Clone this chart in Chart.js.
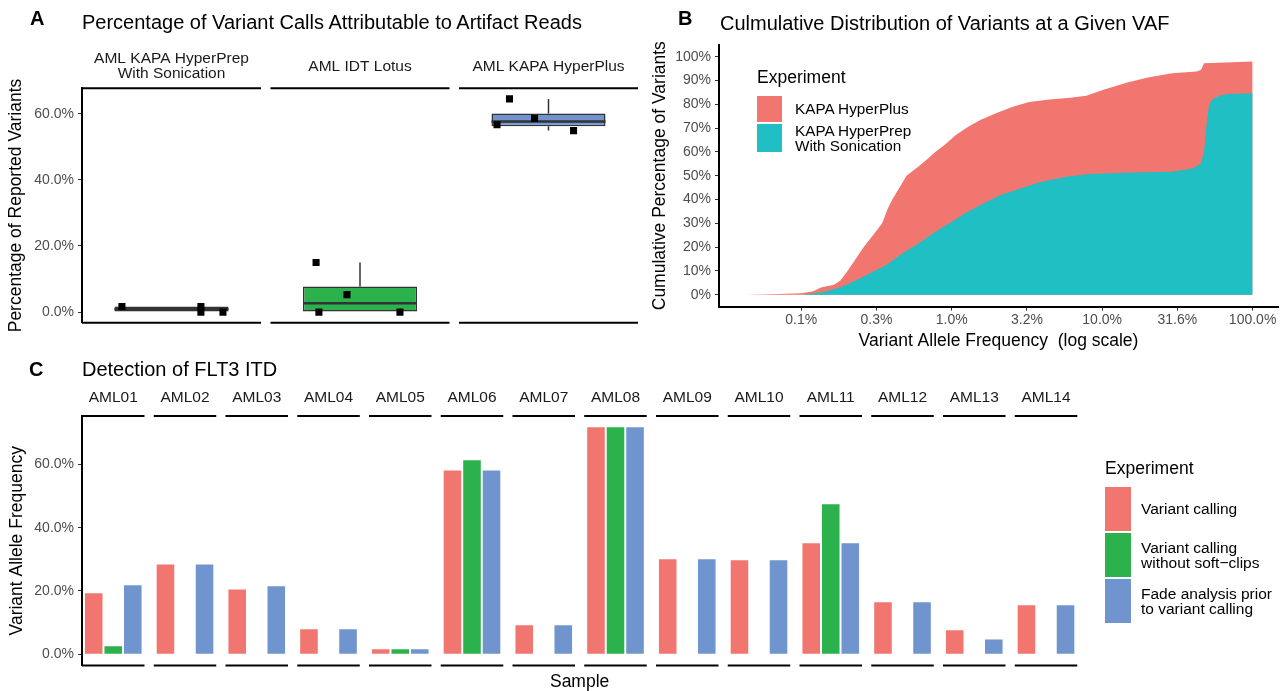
<!DOCTYPE html>
<html><head><meta charset="utf-8">
<script src="https://cdn.jsdelivr.net/npm/chart.js@4.4.1/dist/chart.umd.min.js"></script>
<style>
html,body{margin:0;padding:0;background:#fff;width:1281px;height:691px;overflow:hidden;font-family:"Liberation Sans",Arial,sans-serif;}
canvas{position:absolute;left:0;top:0;}
.t{position:absolute;white-space:nowrap;color:#000;line-height:1;}
.k{position:absolute;}
</style></head><body>
<canvas id="cA" width="1281" height="691"></canvas>
<canvas id="cB" width="1281" height="691"></canvas>
<canvas id="cC" width="1281" height="691"></canvas>

<div class="t" style="left:30px;top:7.7px;font-size:20px;font-weight:bold;">A</div>
<div class="t" style="left:82px;top:12.2px;font-size:20px;">Percentage of Variant Calls Attributable to Artifact Reads</div>
<div class="t" style="left:678px;top:7.7px;font-size:20px;font-weight:bold;">B</div>
<div class="t" style="left:720px;top:12.5px;font-size:20px;">Culmulative Distribution of Variants at a Given VAF</div>
<div class="t" style="left:29px;top:358.7px;font-size:20px;font-weight:bold;">C</div>
<div class="t" style="left:82px;top:359.2px;font-size:20px;">Detection of FLT3 ITD</div>
<div id="legB"></div>
<div id="legC"></div>

<script>
// ---------- Panel A data ----------
const libraryPreps = ['AML KAPA HyperPrep\nWith Sonication', 'AML IDT Lotus', 'AML KAPA HyperPlus'];
const artifactPct = [
  [1.7, 1.7, 0.0, 0.0],
  [15.0, 5.3, 0.0, 0.0],
  [64.5, 58.6, 56.7, 54.9]
];
const jitterA = [
  [-0.263, 0.156, 0.156, 0.273],
  [-0.233, -0.069, -0.218, 0.212],
  [-0.207, -0.074, -0.273, 0.133]
];
const yTicksA = [0, 20, 40, 60];

// ---------- Panel B data (VAF in %, cumulative %) ----------
const hyperPlusCdf = [
  [0.0425,0],[0.07,0.3],[0.1,0.6],[0.12,1.5],[0.135,3],[0.165,4.2],[0.182,6],[0.203,10],
  [0.23,15],[0.26,20],[0.3,25],[0.345,30],[0.375,36],[0.403,40],[0.45,45],[0.501,50],
  [0.605,54],[0.69,57],[0.778,60],[0.9,63],[1.06,67],[1.28,70.5],[1.55,73.4],[1.99,76.3],
  [2.55,79],[3.27,81],[4.48,82],[6.12,82.8],[7.86,83.6],[10.1,86],[14.7,89.2],[20.1,91.3],
  [29.2,93],[42.5,93.8],[45.5,94.5],[47.5,97.3],[100,98]
];
const hyperPrepCdf = [
  [0.0425,0],[0.1,0],[0.119,0.5],[0.144,1.3],[0.173,2.7],[0.196,4],[0.237,6.4],[0.286,9],
  [0.367,12.5],[0.471,17.4],[0.605,21.6],[0.778,26.5],[1.0,30.7],[1.28,34.9],[1.64,38.4],
  [2.11,41.9],[2.89,44.7],[3.95,47.5],[5.75,49.6],[8.36,50.7],[15.6,51.3],[29.2,51.7],
  [39.9,53],[45.2,55],[47.5,60],[49.5,72],[51.5,80],[54,82],[61,83.8],[70,84.3],[100,84.6]
];
const seriesB = ['KAPA HyperPlus', 'KAPA HyperPrep\nWith Sonication'];
const vafTicks = [0.1, 0.3162, 1, 3.162, 10, 31.62, 100];
const yTicksB = [0,10,20,30,40,50,60,70,80,90,100];

// ---------- Panel C data ----------
const samples = ['AML01','AML02','AML03','AML04','AML05','AML06','AML07','AML08','AML09','AML10','AML11','AML12','AML13','AML14'];
const variantCalling = [19.3,28.4,20.5,7.9,1.6,58.1,9.2,71.7,30.0,29.7,35.1,16.4,7.6,15.5];
const noSoftClips    = [2.5,0,0,0,1.6,61.3,0,71.7,0,0,47.4,0,0,0];
const fadePrior      = [21.8,28.4,21.5,7.9,1.6,58.1,9.2,71.7,30.0,29.7,35.1,16.4,4.7,15.5];
const seriesC = ['Variant calling', 'Variant calling\nwithout soft\u2212clips', 'Fade analysis prior\nto variant calling'];
const yTicksC = [0, 20, 40, 60];

// ---------- styling ----------
const RED = '#F1766F', GREEN = '#2BB24C', BLUE = '#7094CD', TEAL = '#1FBFC3';
const boxFill = ['#333333', GREEN, BLUE];
const FONT = "'Liberation Sans', Arial, sans-serif";
Chart.defaults.font.family = FONT;
Chart.defaults.color = '#4D4D4D';
Chart.defaults.animation = false;

const facetPlugin = {
  id: 'facets',
  afterDraw(chart, args, o) {
    if (!o || !o.labels) return;
    const {ctx, chartArea: ca} = chart;
    const x = chart.scales.x;
    ctx.save();
    o.labels.forEach((lab, i) => {
      const l = x.getPixelForValue(i - o.half), r = x.getPixelForValue(i + o.half);
      ctx.strokeStyle = '#000'; ctx.lineWidth = 2;
      ctx.beginPath();
      ctx.moveTo(l, ca.top); ctx.lineTo(r, ca.top);
      ctx.moveTo(l, ca.bottom); ctx.lineTo(r, ca.bottom);
      ctx.stroke();
      ctx.fillStyle = '#1A1A1A';
      ctx.font = o.fontSize + 'px ' + FONT;
      ctx.textAlign = 'center'; ctx.textBaseline = 'middle';
      const lines = lab.split('\n');
      const c = (l + r) / 2;
      lines.forEach((ln, j) => ctx.fillText(ln, c, o.stripY + (j - (lines.length - 1) / 2) * o.lineGap));
    });
    ctx.restore();
  }
};

function yAxis(opts) {
  return Object.assign({
    position: 'left',
    grid: {display: true, drawOnChartArea: false, drawTicks: true, tickLength: 4, color: '#333', tickColor: '#333', tickWidth: 1},
    border: {display: true, color: '#000', width: 2},
    ticks: {padding: 4, color: '#4D4D4D', font: {size: 14}},
  }, opts);
}

// ---------- Panel A ----------
function quantile(arr, p) {
  const s = [...arr].sort((a, b) => a - b);
  const h = (s.length - 1) * p, lo = Math.floor(h);
  const hi = Math.min(lo + 1, s.length - 1);
  return s[lo] + (h - lo) * (s[hi] - s[lo]);
}
const boxStats = artifactPct.map(v => {
  const q1 = quantile(v, 0.25), med = quantile(v, 0.5), q3 = quantile(v, 0.75);
  const iqr = q3 - q1;
  const lo = Math.min(...v.filter(d => d >= q1 - 1.5 * iqr));
  const hi = Math.max(...v.filter(d => d <= q3 + 1.5 * iqr));
  return {q1, med, q3, lo, hi};
});
const BOXW = 0.605, HALF_A = 0.4748;
const pointsA = artifactPct.flatMap((v, i) => v.map((d, j) => ({x: i + jitterA[i][j], y: d})));
const medianSegs = boxStats.flatMap((b, i) => [{x: i - BOXW / 2, y: b.med}, {x: i + BOXW / 2, y: b.med}, {x: i, y: null}]);
const whiskerSegs = boxStats.flatMap((b, i) => [{x: i, y: b.q3}, {x: i, y: b.hi}, {x: i, y: null}, {x: i, y: b.q1}, {x: i, y: b.lo}, {x: i, y: null}]);

new Chart(document.getElementById('cA'), {
  type: 'bar',
  data: {datasets: [
    {type: 'scatter', data: pointsA, pointStyle: 'rect', pointRadius: 5, backgroundColor: '#000', borderColor: '#000', borderWidth: 0, order: 0},
    {type: 'line', data: medianSegs, borderColor: '#333', borderWidth: 2.5, pointRadius: 0, spanGaps: false, order: 1},
    {type: 'bar', data: boxStats.map((b, i) => ({x: i, y: [b.q1, b.q3]})), backgroundColor: boxFill, borderColor: '#333', borderWidth: 1.5, borderSkipped: false, barPercentage: BOXW, categoryPercentage: 1, order: 3},
    {type: 'line', data: whiskerSegs, borderColor: '#333', borderWidth: 1.5, pointRadius: 0, spanGaps: false, order: 4}
  ]},
  options: {
    responsive: false, animation: false,
    layout: {padding: {left: 0, right: 643, top: 88.3, bottom: 368.3}},
    plugins: {legend: {display: false}, tooltip: {enabled: false},
      facets: {labels: libraryPreps, half: HALF_A, stripY: 66.5, lineGap: 15, fontSize: 15.5}},
    scales: {
      x: {type: 'linear', display: false, offset: false, grid: {offset: false}, min: -HALF_A, max: 2 + HALF_A,
          afterBuildTicks: s => { s.ticks = libraryPreps.map((_, i) => ({value: i})); }},
      y: yAxis({min: -3.2, max: 67.7,
          afterBuildTicks: s => { s.ticks = yTicksA.map(v => ({value: v})); },
          ticks: {padding: 4, color: '#4D4D4D', font: {size: 14}, callback: v => v.toFixed(1) + '%'},
          title: {display: true, text: 'Percentage of Reported Variants', color: '#000', font: {size: 17.5}, padding: {top: 6}},
          afterFit: s => { s.width = 82; }})
    }
  },
  plugins: [facetPlugin]
});

// ---------- Panel B ----------
new Chart(document.getElementById('cB'), {
  type: 'line',
  data: {datasets: [
    {label: seriesB[1], data: hyperPrepCdf.map(([x, y]) => ({x, y})), backgroundColor: TEAL, borderColor: 'rgba(0,0,0,0)', borderWidth: 0, pointRadius: 0, fill: 'origin', tension: 0},
    {label: seriesB[0], data: hyperPlusCdf.map(([x, y]) => ({x, y})), backgroundColor: RED, borderColor: 'rgba(0,0,0,0)', borderWidth: 0, pointRadius: 0, fill: 'origin', tension: 0}
  ]},
  options: {
    responsive: false, animation: false,
    layout: {padding: {left: 649, right: 3, top: 44.8, bottom: 339}},
    plugins: {legend: {display: false}, tooltip: {enabled: false}},
    scales: {
      x: {type: 'logarithmic', min: 0.0284, max: 147.5,
          afterBuildTicks: s => { s.ticks = vafTicks.map(v => ({value: v})); },
          grid: {display: true, drawOnChartArea: false, drawTicks: true, tickLength: 4, color: '#333', tickColor: '#333'},
          border: {display: true, color: '#000', width: 2},
          ticks: {padding: 1, color: '#4D4D4D', font: {size: 14}, maxRotation: 0, autoSkip: false, callback: v => v.toFixed(1) + '%'},
          title: {display: true, text: 'Variant Allele Frequency  (log scale)', color: '#000', font: {size: 17.5}, padding: {top: 0, bottom: 0}},
          afterFit: s => { s.height = 45.4; }},
      y: yAxis({min: -5, max: 105,
          afterBuildTicks: s => { s.ticks = yTicksB.map(v => ({value: v})); },
          ticks: {padding: 4, color: '#4D4D4D', font: {size: 14}, callback: v => v + '%'},
          title: {display: true, text: 'Cumulative Percentage of Variants', color: '#000', font: {size: 17.5}, padding: {top: 1}},
          afterFit: s => { s.width = 70; }})
    }
  }
});

// ---------- Panel C ----------
const HALF_C = 0.4355;
new Chart(document.getElementById('cC'), {
  type: 'bar',
  data: {datasets: [
    {label: seriesC[0], data: variantCalling.map((v, i) => ({x: i, y: v})), backgroundColor: RED},
    {label: seriesC[1], data: noSoftClips.map((v, i) => ({x: i, y: v})), backgroundColor: GREEN},
    {label: seriesC[2], data: fadePrior.map((v, i) => ({x: i, y: v})), backgroundColor: BLUE}
  ]},
  options: {
    responsive: false, animation: false,
    datasets: {bar: {categoryPercentage: 0.8166, barPercentage: 0.9}},
    layout: {padding: {left: 0, right: 203.75, top: 416, bottom: 0}},
    plugins: {legend: {display: false}, tooltip: {enabled: false},
      facets: {labels: samples, half: HALF_C, stripY: 397.5, lineGap: 15, fontSize: 15.5}},
    scales: {
      x: {type: 'linear', offset: false, min: -HALF_C, max: samples.length - 1 + HALF_C,
          afterBuildTicks: s => { s.ticks = samples.map((_, i) => ({value: i})); },
          grid: {display: false, offset: false}, border: {display: false}, ticks: {display: false},
          title: {display: true, text: 'Sample', color: '#000', font: {size: 17.5, lineHeight: 1}, padding: 0},
          afterFit: s => { s.height = 25.4; }},
      y: yAxis({min: -3.585, max: 75.285,
          afterBuildTicks: s => { s.ticks = yTicksC.map(v => ({value: v})); },
          ticks: {padding: 4, color: '#4D4D4D', font: {size: 14}, callback: v => v.toFixed(1) + '%'},
          title: {display: true, text: 'Variant Allele Frequency', color: '#000', font: {size: 17.5}, padding: {top: 7}},
          afterFit: s => { s.width = 82; }})
    }
  },
  plugins: [facetPlugin]
});

// ---------- HTML legends ----------
function legend(el, title, x, titleY, keys, labelX, fontSize) {
  let h = `<div class="t" style="left:${x}px;top:${titleY - 0.49 * 17.5}px;font-size:17.5px;">${title}</div>`;
  keys.forEach(k => {
    h += `<div class="k" style="left:${x}px;top:${k.top}px;width:${k.w}px;height:${k.h}px;background:${k.color};"></div>`;
    const lines = k.label.split('\n');
    const mid = k.top + k.h / 2;
    lines.forEach((ln, j) => {
      const cy = mid + (j - (lines.length - 1) / 2) * 15;
      h += `<div class="t" style="left:${labelX}px;top:${cy - 0.5 * fontSize}px;font-size:${fontSize}px;">${ln}</div>`;
    });
  });
  document.getElementById(el).innerHTML = h;
}
legend('legB', 'Experiment', 757, 77.5, [
  {label: seriesB[0], color: RED, top: 96, h: 26, w: 25},
  {label: seriesB[1], color: TEAL, top: 124, h: 28, w: 25}
], 795, 15.3);
legend('legC', 'Experiment', 1105, 469, [
  {label: seriesC[0], color: RED, top: 487.3, h: 43.7, w: 26},
  {label: seriesC[1], color: GREEN, top: 533.3, h: 43.7, w: 26},
  {label: seriesC[2], color: BLUE, top: 579.3, h: 43.7, w: 26}
], 1141, 15.5);
</script>
</body></html>
